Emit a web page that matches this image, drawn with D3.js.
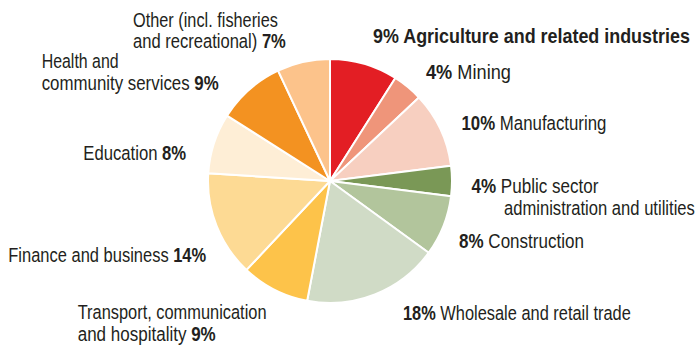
<!DOCTYPE html>
<html>
<head>
<meta charset="utf-8">
<script src="https://cdn.jsdelivr.net/npm/d3@7"></script>
<style>
  html, body { margin: 0; padding: 0; background: #fff; }
  text { font-family: "Liberation Sans", Arial, sans-serif; fill: #231f20; }
</style>
</head>
<body>
<svg id="chart" width="696" height="347"></svg>
<script>
// Employment share by industry, clockwise from 12 o'clock
const sectors = [
  "Agriculture and related industries", "Mining", "Manufacturing",
  "Public sector administration and utilities", "Construction",
  "Wholesale and retail trade", "Transport, communication and hospitality",
  "Finance and business", "Education", "Health and community services",
  "Other (incl. fisheries and recreational)"
];
const shares = [9, 4, 10, 4, 8, 18, 9, 14, 8, 9, 7];
const colors = ["#e31e24", "#ef957a", "#f7cfc0", "#7a9856", "#b2c59c",
  "#d0dbc6", "#fdc34a", "#fdda94", "#feeed6", "#f39221", "#fcc38b"];

// Label layout: one entry per text line, runs of [text, bold];
// w is the set width of the condensed line
const labelLines = [
  { x: 373, y: 43, w: 317, runs: [["9% Agriculture and related industries", true]] },
  { x: 426, y: 79, w: 85, runs: [["4%", true], [" Mining", false]] },
  { x: 461.5, y: 129.5, w: 145, runs: [["10%", true], [" Manufacturing", false]] },
  { x: 471.5, y: 192.5, w: 127, runs: [["4%", true], [" Public sector", false]] },
  { x: 504, y: 215, w: 191, runs: [["administration and utilities", false]] },
  { x: 459, y: 247.5, w: 125, runs: [["8%", true], [" Construction", false]] },
  { x: 403, y: 320, w: 228, runs: [["18%", true], [" Wholesale and retail trade", false]] },
  { x: 77.7, y: 319.3, w: 189, runs: [["Transport, communication", false]] },
  { x: 77.7, y: 340.7, w: 138, runs: [["and hospitality ", false], ["9%", true]] },
  { x: 8.3, y: 262, w: 198, runs: [["Finance and business ", false], ["14%", true]] },
  { x: 83.3, y: 159.7, w: 103, runs: [["Education ", false], ["8%", true]] },
  { x: 41.7, y: 68.3, w: 77, runs: [["Health and", false]] },
  { x: 41.7, y: 90, w: 177, runs: [["community services ", false], ["9%", true]] },
  { x: 133, y: 26.7, w: 145, runs: [["Other (incl. fisheries", false]] },
  { x: 133, y: 47.7, w: 153, runs: [["and recreational) ", false], ["7%", true]] }
];

const svg = d3.select("#chart");
const cx = 330, cy = 181, radius = 122;

const pie = d3.pie().sort(null).value(d => d);
const arc = d3.arc().innerRadius(0).outerRadius(radius);

const g = svg.append("g").attr("transform", `translate(${cx},${cy})`);
g.selectAll("path")
  .data(pie(shares))
  .join("path")
  .attr("d", arc)
  .attr("fill", (d, i) => colors[i])
  .attr("stroke", "#fff")
  .attr("stroke-width", 2)
  .attr("stroke-linejoin", "round");

// Each line is drawn at the origin, then squeezed horizontally to its set width
labelLines.forEach(line => {
  const grp = svg.append("g");
  const t = grp.append("text")
    .attr("x", 0)
    .attr("y", 0)
    .style("font-size", "19.5px");
  line.runs.forEach(run => {
    t.append("tspan")
      .text(run[0])
      .style("font-weight", run[1] ? "bold" : "normal");
  });
  const natural = t.node().getComputedTextLength();
  const sx = natural > 0 ? line.w / natural : 1;
  grp.attr("transform", `translate(${line.x},${line.y}) scale(${sx},1)`);
});
</script>
</body>
</html>
